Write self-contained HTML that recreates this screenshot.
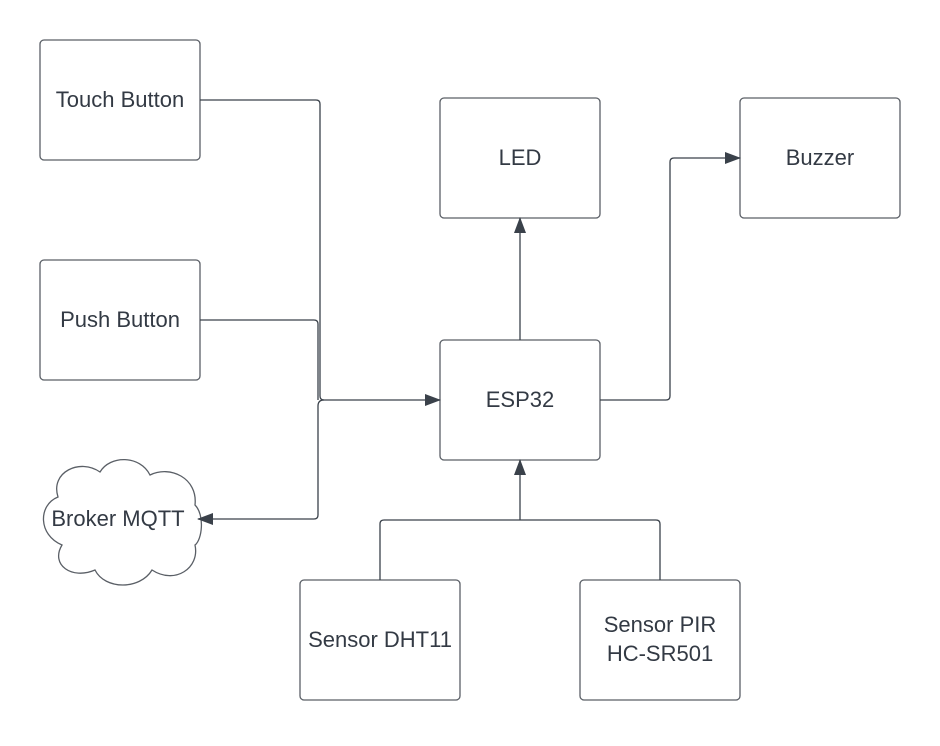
<!DOCTYPE html><html><head><style>body{margin:0;background:#fff}</style></head><body>
<svg width="940" height="741" viewBox="0 0 940 741" xmlns="http://www.w3.org/2000/svg" font-family="Liberation Sans, sans-serif" font-size="22" fill="none">
<defs>
<marker id="b" markerWidth="16" markerHeight="12" refX="15" refY="6" orient="auto" markerUnits="userSpaceOnUse"><path d="M0,0L16,6L0,12z" fill="#3a414a"/></marker></defs>
<g stroke="#5a5f66" stroke-width="1.3">
<rect x="40" y="40" width="160" height="120" rx="4"/>
<rect x="40" y="260" width="160" height="120" rx="4"/>
<rect x="440" y="98" width="160" height="120" rx="4"/>
<rect x="740" y="98" width="160" height="120" rx="4"/>
<rect x="440" y="340" width="160" height="120" rx="4"/>
<rect x="300" y="580" width="160" height="120" rx="4"/>
<rect x="580" y="580" width="160" height="120" rx="4"/>
<path d="M58,497 C50,472 80,458 100,472 C110,455 140,455 150,475 C170,465 198,478 195,505 C205,515 202,540 195,545 C200,568 175,585 152,570 C140,590 105,590 95,570 C72,580 50,565 62,545 C38,535 38,505 58,497 Z"/>
</g>
<g stroke="#3a414a" stroke-width="1.3">
<path d="M200,100H316Q320,100 320,104V396Q320,400 324,400H440" marker-end="url(#b)"/>
<path d="M200,320H314Q318,320 318,324V400"/>
<path d="M324,400Q318,400 318,406V515Q318,519 314,519H198" marker-end="url(#b)"/>
<path d="M520,340V218" marker-end="url(#b)"/>
<path d="M600,400H666Q670,400 670,396V162Q670,158 674,158H740" marker-end="url(#b)"/>
<path d="M380,580V524Q380,520 384,520H656Q660,520 660,524V580"/>
<path d="M520,520V460" marker-end="url(#b)"/>
</g>
<g fill="#333a44" text-anchor="middle">
<text x="120" y="107">Touch Button</text>
<text x="120" y="327">Push Button</text>
<text x="520" y="165">LED</text>
<text x="820" y="165">Buzzer</text>
<text x="520" y="407">ESP32</text>
<text x="118" y="526">Broker MQTT</text>
<text x="380" y="647">Sensor DHT11</text>
<text x="660" y="632">Sensor PIR</text>
<text x="660" y="661">HC-SR501</text>
</g>
</svg></body></html>
